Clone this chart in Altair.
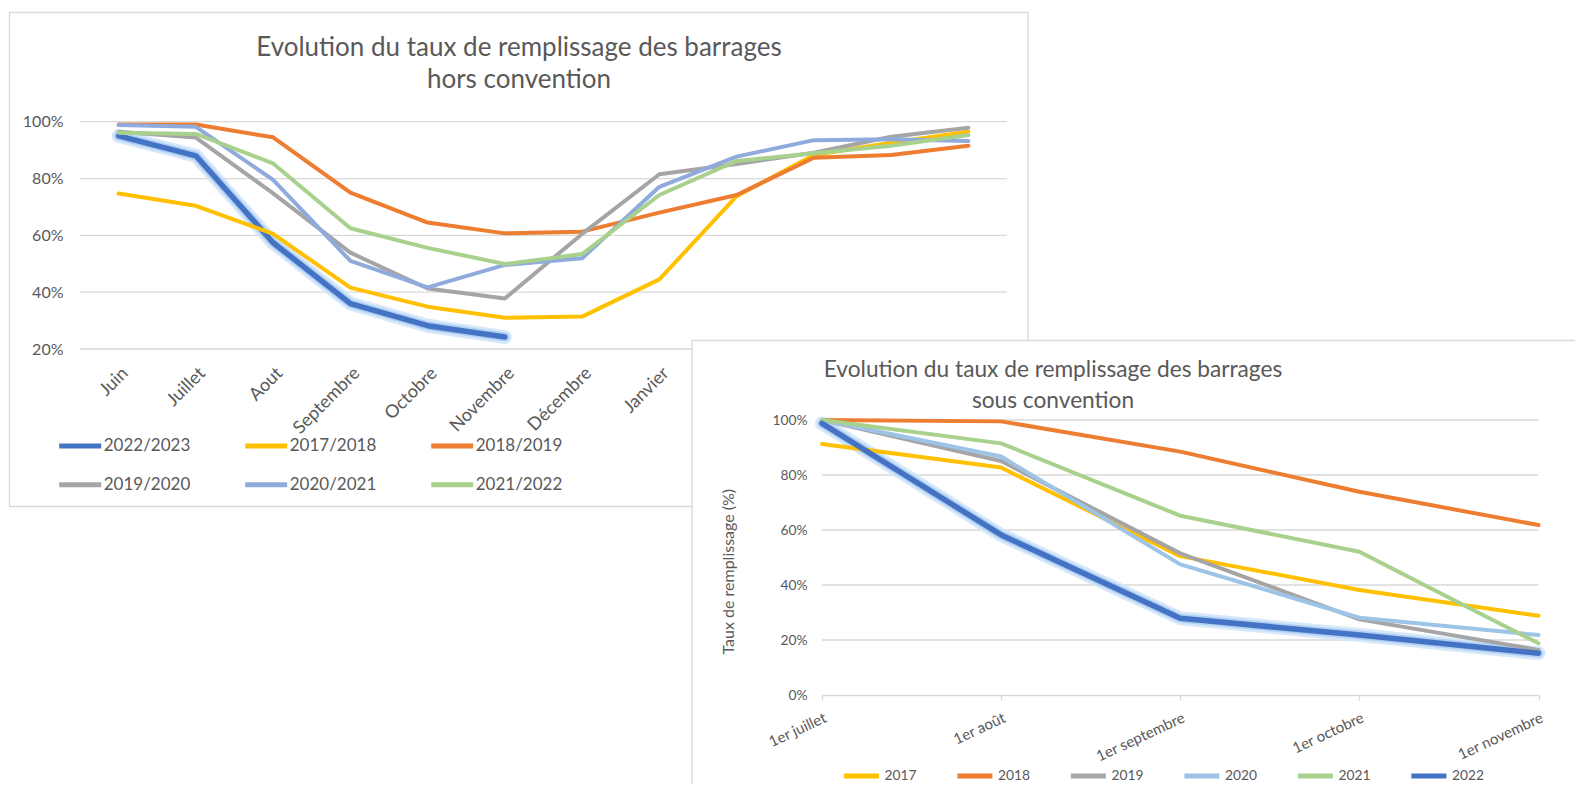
import altair as alt
import pandas as pd

# ---------------- data ----------------
months = ["Juin", "Juillet", "Aout", "Septembre", "Octobre", "Novembre",
          "Décembre", "Janvier", "Février", "Mars", "Avril", "Mai"]
series1_names = ["2022/2023", "2017/2018", "2018/2019", "2019/2020", "2020/2021", "2021/2022"]
s_2022_2023 = [0.95, 0.88, 0.574, 0.36, 0.282, 0.242]
s_2017_2018 = [0.747, 0.704, 0.605, 0.416, 0.349, 0.31, 0.314, 0.445, 0.738, 0.883, 0.926, 0.965]
s_2018_2019 = [0.99, 0.99, 0.945, 0.75, 0.645, 0.607, 0.613, 0.68, 0.742, 0.873, 0.883, 0.915]
s_2019_2020 = [0.965, 0.944, 0.748, 0.539, 0.413, 0.378, 0.605, 0.815, 0.851, 0.891, 0.947, 0.979]
s_2020_2021 = [0.988, 0.982, 0.795, 0.51, 0.417, 0.496, 0.519, 0.771, 0.877, 0.935, 0.938, 0.932]
s_2021_2022 = [0.961, 0.957, 0.853, 0.625, 0.556, 0.499, 0.534, 0.742, 0.862, 0.889, 0.915, 0.953]
colors1 = ["#4472C4", "#FFC000", "#ED7D31", "#A5A5A5", "#8FAADC", "#A9D18E"]

dates = ["1er juillet", "1er août", "1er septembre", "1er octobre", "1er novembre"]
series2_names = ["2017", "2018", "2019", "2020", "2021", "2022"]
c_2017 = [0.913, 0.827, 0.505, 0.382, 0.288]
c_2018 = [1.0, 0.995, 0.885, 0.739, 0.618]
c_2019 = [1.0, 0.851, 0.515, 0.275, 0.164]
c_2020 = [1.0, 0.867, 0.475, 0.281, 0.218]
c_2021 = [1.0, 0.915, 0.652, 0.521, 0.188]
c_2022 = [0.988, 0.582, 0.279, 0.218, 0.152]
colors2 = ["#FFC000", "#ED7D31", "#A5A5A5", "#9DC3E6", "#A9D18E", "#4472C4"]

grid1_values = [0.2, 0.4, 0.6, 0.8, 1.0]
grid2_values = [0.2, 0.4, 0.6, 0.8, 1.0]
axis2_values = [0.0, 0.2, 0.4, 0.6, 0.8, 1.0]

title1 = ["Evolution du taux de remplissage des barrages", "hors convention"]
title2 = ["Evolution du taux de remplissage des barrages", "sous convention"]
ytitle2 = "Taux de remplissage (%)"

# ---------------- tables ----------------
rows1 = []
for name, vals in zip(series1_names, [s_2022_2023, s_2017_2018, s_2018_2019,
                                      s_2019_2020, s_2020_2021, s_2021_2022]):
    for m, v in zip(months, vals):
        rows1.append({"m": m, "v": v, "s": name})
df1 = pd.DataFrame(rows1)

rows2 = []
for name, vals in zip(series2_names, [c_2017, c_2018, c_2019, c_2020, c_2021, c_2022]):
    for d, v in zip(dates, vals):
        rows2.append({"d": d, "v": v, "s": name})
df2 = pd.DataFrame(rows2)

g1 = pd.DataFrame({"v": grid1_values})
g2 = pd.DataFrame({"v": grid2_values})
one = pd.DataFrame({"a": [0]})

# ---------------- layout (canvas px) ----------------
W, H = 1567, 776
FONT = "Lato"
TXT = "#595959"
GRID = "#D9D9D9"

X1_RANGE = [72, 999]
Y1_RANGE = [341, 113.7]
X2_RANGE = [814, 1530.5]
Y2_RANGE = [687, 412]

hidden = "indexof(['Février','Mars','Avril','Mai'], datum.label) >= 0 ? '' : datum.label"

X1 = alt.X("m:O", scale=alt.Scale(type="point", domain=months, range=X1_RANGE, padding=0.5),
           axis=alt.Axis(orient="bottom", offset=Y1_RANGE[0] - H, domain=False, ticks=False,
                         tickSize=0, grid=False, labelAngle=-45, labelAlign="right",
                         labelBaseline="top", labelPadding=15, labelFontSize=18,
                         labelFont=FONT, labelColor=TXT, title=None, labelExpr=hidden,
                         labelOverlap=False))
Y1 = alt.Y("v:Q", scale=alt.Scale(domain=[0.2, 1.0], range=Y1_RANGE, nice=False, zero=False),
           axis=alt.Axis(orient="left", offset=-X1_RANGE[0], domain=False, ticks=False,
                         tickSize=0, grid=False, values=grid1_values, format=".0%",
                         labelPadding=17, labelFontSize=16, labelFont=FONT,
                         labelColor=TXT, title=None))

X2 = alt.X("d:O", scale=alt.Scale(type="point", domain=dates, range=X2_RANGE, padding=0),
           axis=alt.Axis(orient="bottom", offset=Y2_RANGE[0] - H, domain=True,
                         domainColor=GRID, domainWidth=1.3, ticks=True, tickColor=GRID,
                         tickSize=5, tickWidth=1.3, grid=False, labelAngle=-25,
                         labelAlign="right", labelBaseline="top", labelPadding=10,
                         labelFontSize=15, labelFont=FONT, labelColor=TXT, title=None,
                         zindex=1, labelOverlap=False))
Y2 = alt.Y("v:Q", scale=alt.Scale(domain=[0.0, 1.0], range=Y2_RANGE, nice=False, zero=False),
           axis=alt.Axis(orient="left", offset=-X2_RANGE[0], domain=False, ticks=False,
                         tickSize=0, grid=False, values=axis2_values, format=".0%",
                         labelPadding=15, labelFontSize=13.8, labelFont=FONT,
                         labelColor=TXT, title=None, zindex=1))

# ---------------- chart 1 ----------------
box1 = alt.Chart(one).mark_rect(fill=None, stroke=GRID, strokeWidth=1.3).encode(
    x=alt.value(1.5), x2=alt.value(1020), y=alt.value(4.5), y2=alt.value(498.5))

t1 = alt.Chart(one).mark_text(font=FONT, fontSize=26, color=TXT, align="center",
                              baseline="alphabetic", lineHeight=32).encode(
    x=alt.value(511), y=alt.value(48), text=alt.value(title1))

grid1 = alt.Chart(g1).mark_rule(color=GRID, strokeWidth=1.3).encode(
    y=Y1, x=alt.value(X1_RANGE[0]), x2=alt.value(X1_RANGE[1]))

blue1 = df1[df1.s == "2022/2023"]
glow1a = alt.Chart(blue1).mark_line(color="#D3E6F9", strokeWidth=14, opacity=0.9,
                                    strokeCap="round", strokeJoin="round").encode(x=X1, y=Y1)
glow1b = alt.Chart(blue1).mark_line(color="#A6CBF0", strokeWidth=9, opacity=0.8,
                                    strokeCap="round", strokeJoin="round").encode(x=X1, y=Y1)

leg1 = alt.Legend(orient="none", legendX=48.7, legendY=414.3, direction="horizontal",
                  columns=3, title=None, symbolType="stroke", symbolSize=1764,
                  symbolStrokeWidth=5, labelFont=FONT, labelFontSize=17, labelColor=TXT,
                  labelOffset=0, columnPadding=44, rowPadding=5, padding=0, labelLimit=300)

lines1 = alt.Chart(df1).mark_line(strokeCap="round", strokeJoin="round").encode(
    x=X1, y=Y1,
    color=alt.Color("s:N", scale=alt.Scale(domain=series1_names, range=colors1), legend=leg1),
    strokeWidth=alt.condition("datum.s == '2022/2023'", alt.value(5.5), alt.value(4)),
)

chart1 = alt.layer(grid1, glow1a, glow1b, lines1)

# ---------------- chart 2 ----------------
box2 = alt.Chart(one).mark_rect(fill="white", stroke=GRID, strokeWidth=1.3).encode(
    x=alt.value(684), x2=alt.value(W + 10), y=alt.value(332.5), y2=alt.value(H + 10))

t2 = alt.Chart(one).mark_text(font=FONT, fontSize=22.7, color=TXT, align="center",
                              baseline="alphabetic", lineHeight=30.6).encode(
    x=alt.value(1045), y=alt.value(369), text=alt.value(title2))

yt2 = alt.Chart(one).mark_text(font=FONT, fontSize=16, color=TXT, align="center",
                               baseline="middle", angle=270).encode(
    x=alt.value(721.3), y=alt.value(563.7), text=alt.value(ytitle2))

grid2 = alt.Chart(g2).mark_rule(color=GRID, strokeWidth=1.3).encode(
    y=Y2, x=alt.value(X2_RANGE[0]), x2=alt.value(X2_RANGE[1]))

blue2 = df2[df2.s == "2022"]
glow2a = alt.Chart(blue2).mark_line(color="#D3E6F9", strokeWidth=14, opacity=0.9,
                                    strokeCap="round", strokeJoin="round").encode(x=X2, y=Y2)
glow2b = alt.Chart(blue2).mark_line(color="#A6CBF0", strokeWidth=9, opacity=0.8,
                                    strokeCap="round", strokeJoin="round").encode(x=X2, y=Y2)

leg2 = alt.Legend(orient="none", legendX=833.4, legendY=748, direction="horizontal",
                  columns=6, title=None, symbolType="stroke", symbolSize=1225,
                  symbolStrokeWidth=5, labelFont=FONT, labelFontSize=13.8, labelColor=TXT,
                  labelOffset=3, columnPadding=29.5, padding=0, labelLimit=300)

lines2 = alt.Chart(df2).mark_line(strokeCap="round", strokeJoin="round").encode(
    x=X2, y=Y2,
    color=alt.Color("s:N", scale=alt.Scale(domain=series2_names, range=colors2), legend=leg2),
    strokeWidth=alt.condition("datum.s == '2022'", alt.value(5.5), alt.value(4)),
)

chart2 = alt.layer(grid2, glow2a, glow2b, lines2)

chart = alt.layer(box1, t1, chart1, box2, t2, yt2, chart2).resolve_scale(
    x="independent", y="independent", color="independent"
).resolve_legend(color="independent").properties(
    width=W, height=H, autosize=alt.AutoSizeParams(type="none"), padding=0
).configure_view(stroke=None)

chart.save("out.html", embed_options={"renderer": "svg", "actions": False})
